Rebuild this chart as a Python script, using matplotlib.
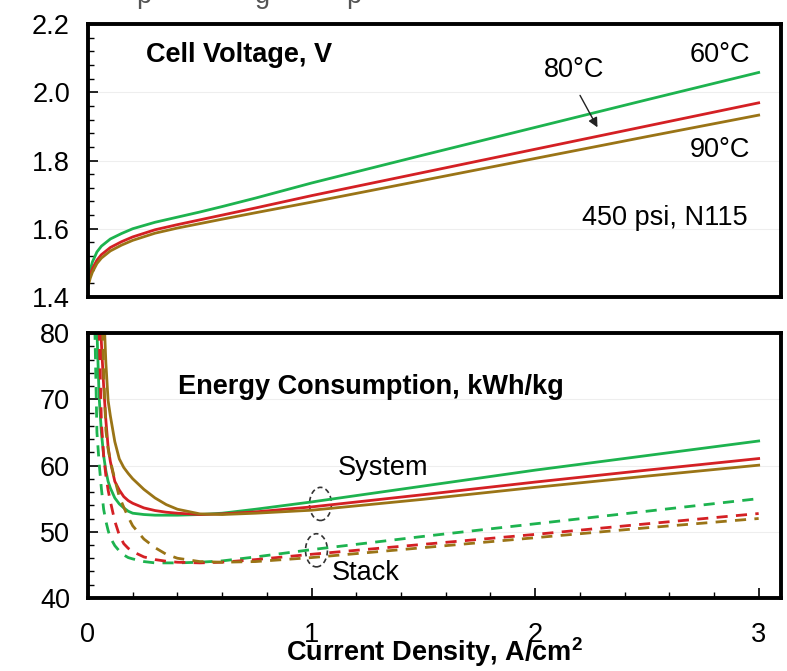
import matplotlib.pyplot as plt
from matplotlib.patches import Ellipse
from matplotlib.ticker import MultipleLocator

plt.rcParams['font.family'] = ['Liberation Sans', 'DejaVu Sans']

# cell voltage, V
j_v = [0.0, 0.01, 0.02, 0.04, 0.06, 0.1, 0.15, 0.2, 0.3, 0.4, 0.5, 0.6, 0.75,
       1.0, 1.5, 2.0, 2.5, 3.0]
volt_60 = [1.45, 1.48, 1.503, 1.532, 1.549, 1.570, 1.586, 1.600, 1.619, 1.634, 1.649,
           1.665, 1.690, 1.734, 1.816, 1.897, 1.978, 2.058]
volt_80 = [1.44, 1.465, 1.483, 1.508, 1.524, 1.545, 1.562, 1.576, 1.597, 1.612, 1.626,
           1.640, 1.661, 1.697, 1.765, 1.833, 1.901, 1.969]
volt_90 = [1.43, 1.455, 1.473, 1.498, 1.514, 1.535, 1.552, 1.566, 1.587, 1.602, 1.615,
           1.628, 1.647, 1.678, 1.742, 1.806, 1.870, 1.933]

# energy consumption, kWh/kg
j = [0.02, 0.03, 0.04, 0.05, 0.06, 0.07, 0.08, 0.09, 0.1, 0.12, 0.14, 0.16, 0.18,
     0.2, 0.25, 0.3, 0.35, 0.4, 0.5, 0.6, 0.75, 1.0, 1.5, 2.0, 2.5, 3.0]
sys_60 = [120, 95, 80.4, 70.3, 65, 61.5, 59.2, 57.6, 56.6, 55.1, 54.2, 53.6, 53.1,
          52.8, 52.6, 52.5, 52.5, 52.5, 52.6, 52.8, 53.4, 54.5, 56.9, 59.3, 61.5, 63.7]
sys_80 = [200, 140, 105, 90, 78.5, 72, 66.8, 62.8, 60.6, 57.6, 56.3, 55.3, 54.7,
          54.3, 53.6, 53.2, 52.95, 52.8, 52.6, 52.7, 53.0, 53.75, 55.6, 57.5, 59.3, 61.05]
sys_90 = [300, 200, 150, 120, 98, 84, 75.5, 69.8, 67.5, 63.6, 61.0, 59.7, 58.8,
          58.0, 56.4, 55.1, 54.1, 53.4, 52.7, 52.6, 52.8, 53.25, 54.9, 56.7, 58.4, 60.05]
stk_60 = [110, 82, 65, 60.3, 56.5, 53.4, 51.6, 50.2, 49.1, 47.9, 47.1, 46.5, 46.1,
          45.9, 45.5, 45.3, 45.3, 45.3, 45.4, 45.6, 46.2, 47.3, 49.3, 51.2, 53.1, 55.0]
stk_80 = [200, 140, 100, 80, 66.5, 61.5, 58.5, 56.3, 54.6, 51.6, 49.5, 48.2, 47.5,
          47.0, 46.2, 45.8, 45.55, 45.4, 45.3, 45.4, 45.8, 46.6, 48.1, 49.6, 51.2, 52.75]
stk_90 = [300, 200, 140, 105, 88, 74, 65.3, 62.5, 60.7, 57.9, 55.3, 53.7, 52.2,
          50.9, 48.9, 47.6, 46.6, 46.0, 45.5, 45.4, 45.5, 46.1, 47.6, 49.1, 50.6, 52.0]

green = '#1db34f'
red = '#d42024'
brown = '#9a7416'
fs = 19.5

fig = plt.figure(figsize=(7.87, 6.71), dpi=100)
ax1 = fig.add_axes([0.1118, 0.5574, 0.8806, 0.4068])
ax2 = fig.add_axes([0.1118, 0.1088, 0.8806, 0.3949])

for ax in (ax1, ax2):
    ax.set_xlim(0, 3.1)
    for s in ax.spines.values():
        s.set_linewidth(2.8)
    ax.grid(axis='y', color='#eeeeee', linewidth=0.8)
    ax.set_axisbelow(True)
    ax.tick_params(axis='both', which='both', direction='in', labelsize=fs,
                   top=False, right=False)
    ax.tick_params(which='major', length=7, width=1.2)
    ax.tick_params(which='minor', length=4, width=1.0)
    ax.tick_params(axis='y', pad=13)
    ax.xaxis.set_major_locator(MultipleLocator(1))
    ax.xaxis.set_minor_locator(MultipleLocator(0.2))

# top panel: cell voltage
ax1.plot(j_v, volt_60, color=green, lw=2)
ax1.plot(j_v, volt_80, color=red, lw=2)
ax1.plot(j_v, volt_90, color=brown, lw=2)
ax1.set_ylim(1.4, 2.2)
ax1.yaxis.set_minor_locator(MultipleLocator(0.04))
ax1.set_yticks([1.4, 1.6, 1.8, 2.0, 2.2])
ax1.set_yticklabels(['1.4', '1.6', '1.8', '2.0', '2.2'])
ax1.tick_params(axis='x', which='both', bottom=False, labelbottom=False)

ax1.text(0.26, 2.108, 'Cell Voltage, V', fontsize=fs, fontweight='bold', va='center')
ax1.text(2.96, 2.108, '60°C', fontsize=fs, ha='right', va='center')
ax1.text(2.175, 2.065, '80°C', fontsize=fs, ha='center', va='center')
ax1.text(2.96, 1.83, '90°C', fontsize=fs, ha='right', va='center')
ax1.text(2.95, 1.631, '450 psi, N115', fontsize=fs, ha='right', va='center')
ax1.annotate('', xy=(2.285, 1.89), xytext=(2.195, 1.998),
             arrowprops=dict(arrowstyle='-|>', color='#222222', lw=1, mutation_scale=14))

# bottom panel: energy consumption
dash = (0, (4, 3))
ax2.plot(j, sys_60, color=green, lw=2)
ax2.plot(j, sys_80, color=red, lw=2)
ax2.plot(j, sys_90, color=brown, lw=2)
ax2.plot(j, stk_60, color=green, lw=2, ls=dash)
ax2.plot(j, stk_80, color=red, lw=2, ls=dash)
ax2.plot(j, stk_90, color=brown, lw=2, ls=dash)
ax2.set_ylim(40, 80)
ax2.yaxis.set_major_locator(MultipleLocator(10))
ax2.yaxis.set_minor_locator(MultipleLocator(2))
ax2.set_xticks([0, 1, 2, 3])
ax2.set_xticklabels(['0', '1', '2', '3'])
ax2.tick_params(axis='x', pad=17)
ax2.set_xlabel('Current Density, A/cm$^\\mathregular{2}$', fontsize=fs,
               fontweight='bold', labelpad=-9)

ax2.text(1.265, 71.8, 'Energy Consumption, kWh/kg', fontsize=fs, fontweight='bold',
         ha='center', va='center')
ax2.text(1.32, 59.6, 'System', fontsize=fs, ha='center', va='center')
ax2.text(1.24, 43.8, 'Stack', fontsize=fs, ha='center', va='center')
ax2.add_patch(Ellipse((1.04, 54.2), 0.098, 5.0, fill=False, ls=(0, (3, 2)),
                      lw=1.2, color='#333333'))
ax2.add_patch(Ellipse((1.022, 47.2), 0.098, 5.0, fill=False, ls=(0, (3, 2)),
                      lw=1.2, color='#333333'))

# clipped caption line above the panels
for x, ch, ha in [(136 / 787, 'p', 'left'), (262 / 787, 'g', 'center'), (346 / 787, 'p', 'left')]:
    fig.text(x, 1 - 3 / 671, ch, fontsize=fs, color='#555555', ha=ha, va='baseline')

fig.savefig('out.png', dpi=100)
